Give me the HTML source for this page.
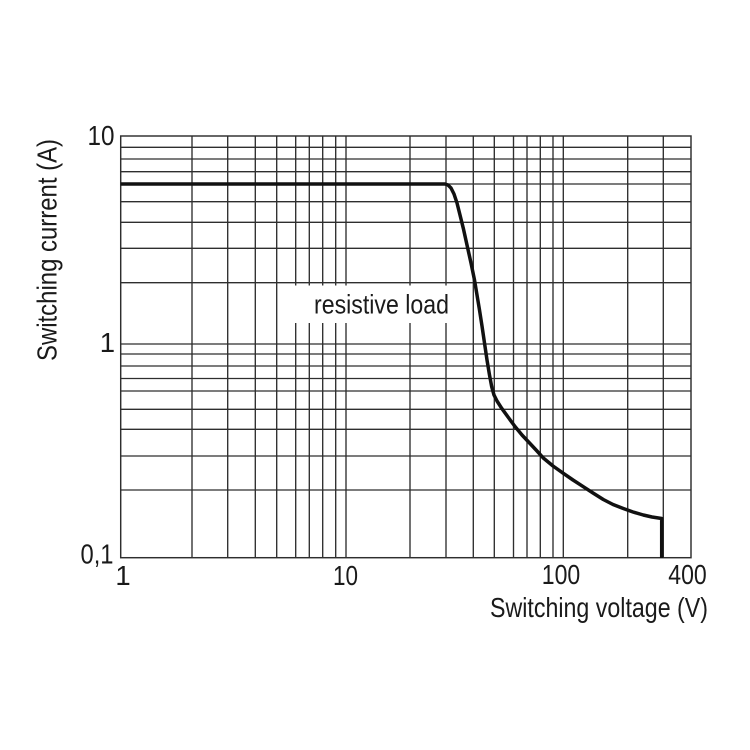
<!DOCTYPE html>
<html>
<head>
<meta charset="utf-8">
<style>
  html, body { margin: 0; padding: 0; background: #ffffff; }
  svg { display: block; }
  text { font-family: "Liberation Sans", sans-serif; fill: #1a1a1a; }
</style>
</head>
<body>
<svg width="750" height="750" viewBox="0 0 750 750" xmlns="http://www.w3.org/2000/svg">
  <rect x="0" y="0" width="750" height="750" fill="#ffffff"/>
  <g stroke="#2e2e2e" stroke-width="1.35" fill="none">
    <!-- vertical grid lines -->
    <line x1="192" y1="136" x2="192" y2="557.7"/>
    <line x1="227.7" y1="136" x2="227.7" y2="557.7"/>
    <line x1="255.3" y1="136" x2="255.3" y2="557.7"/>
    <line x1="276.7" y1="136" x2="276.7" y2="557.7"/>
    <line x1="295.7" y1="136" x2="295.7" y2="557.7"/>
    <line x1="309.3" y1="136" x2="309.3" y2="557.7"/>
    <line x1="322.7" y1="136" x2="322.7" y2="557.7"/>
    <line x1="335.7" y1="136" x2="335.7" y2="557.7"/>
    <line x1="346" y1="136" x2="346" y2="557.7"/>
    <line x1="410" y1="136" x2="410" y2="557.7"/>
    <line x1="446" y1="136" x2="446" y2="557.7"/>
    <line x1="473.3" y1="136" x2="473.3" y2="557.7"/>
    <line x1="494.3" y1="136" x2="494.3" y2="557.7"/>
    <line x1="513.5" y1="136" x2="513.5" y2="557.7"/>
    <line x1="527" y1="136" x2="527" y2="557.7"/>
    <line x1="540.3" y1="136" x2="540.3" y2="557.7"/>
    <line x1="553" y1="136" x2="553" y2="557.7"/>
    <line x1="563.3" y1="136" x2="563.3" y2="557.7"/>
    <line x1="627.7" y1="136" x2="627.7" y2="557.7"/>
    <line x1="663.3" y1="136" x2="663.3" y2="557.7"/>
    <!-- horizontal grid lines -->
    <line x1="120.7" y1="147.3" x2="691" y2="147.3"/>
    <line x1="120.7" y1="159" x2="691" y2="159"/>
    <line x1="120.7" y1="171.7" x2="691" y2="171.7"/>
    <line x1="120.7" y1="184" x2="691" y2="184"/>
    <line x1="120.7" y1="201.7" x2="691" y2="201.7"/>
    <line x1="120.7" y1="222.3" x2="691" y2="222.3"/>
    <line x1="120.7" y1="248.3" x2="691" y2="248.3"/>
    <line x1="120.7" y1="282.7" x2="691" y2="282.7"/>
    <line x1="120.7" y1="344" x2="691" y2="344"/>
    <line x1="120.7" y1="354" x2="691" y2="354"/>
    <line x1="120.7" y1="366" x2="691" y2="366"/>
    <line x1="120.7" y1="378.5" x2="691" y2="378.5"/>
    <line x1="120.7" y1="391" x2="691" y2="391"/>
    <line x1="120.7" y1="409.3" x2="691" y2="409.3"/>
    <line x1="120.7" y1="429.3" x2="691" y2="429.3"/>
    <line x1="120.7" y1="456" x2="691" y2="456"/>
    <line x1="120.7" y1="490" x2="691" y2="490"/>
    <!-- border -->
    <rect x="120.7" y="136" width="570.3" height="421.7" stroke-width="1.45"/>
  </g>

  <!-- label box -->
  <rect x="284" y="285.5" width="175" height="37.5" fill="#ffffff"/>
  <text x="314" y="313.5" font-size="27" textLength="135" lengthAdjust="spacingAndGlyphs">resistive load</text>

  <!-- curve -->
  <polyline fill="none" stroke="#111" stroke-width="3.5" stroke-linejoin="round" stroke-linecap="butt"
    points="120.7,184 445,184 448,185 451,188 454,194 457,203 460,215 463.3,228.3 467,245 471,263 474.5,280 477,295 479.5,310 482,326 484.5,343 487,360 489.5,375 491.7,386.7 494,395 497,401 501.7,408.3 508,417 515,426.5 522,435 530,443.5 537,451 543.3,458 553,466 563.3,473.3 573,480 583.3,486.7 593,493 603.3,499.5 613,504.5 623.3,508.5 633,512 643.3,515 652,517 661.7,518.5 661.7,558"/>

  <!-- y tick labels -->
  <text x="114.5" y="145" font-size="27.5" text-anchor="end" textLength="27" lengthAdjust="spacingAndGlyphs">10</text>
  <text x="115" y="352" font-size="27.5" text-anchor="end">1</text>
  <text x="113.5" y="563.5" font-size="27.5" text-anchor="end" textLength="33" lengthAdjust="spacingAndGlyphs">0,1</text>

  <!-- x tick labels -->
  <text x="123" y="585" font-size="27.5" text-anchor="middle">1</text>
  <text x="345.5" y="585" font-size="27.5" text-anchor="middle" textLength="25" lengthAdjust="spacingAndGlyphs">10</text>
  <text x="561" y="584" font-size="27.5" text-anchor="middle" textLength="38.5" lengthAdjust="spacingAndGlyphs">100</text>
  <text x="687.5" y="584" font-size="27.5" text-anchor="middle" textLength="38.5" lengthAdjust="spacingAndGlyphs">400</text>

  <!-- axis titles -->
  <text x="490" y="617" font-size="28" textLength="218" lengthAdjust="spacingAndGlyphs">Switching voltage (V)</text>
  <text transform="translate(56.5,250) rotate(-90)" x="0" y="0" font-size="28" text-anchor="middle" textLength="222" lengthAdjust="spacingAndGlyphs">Switching current (A)</text>
</svg>
</body>
</html>
